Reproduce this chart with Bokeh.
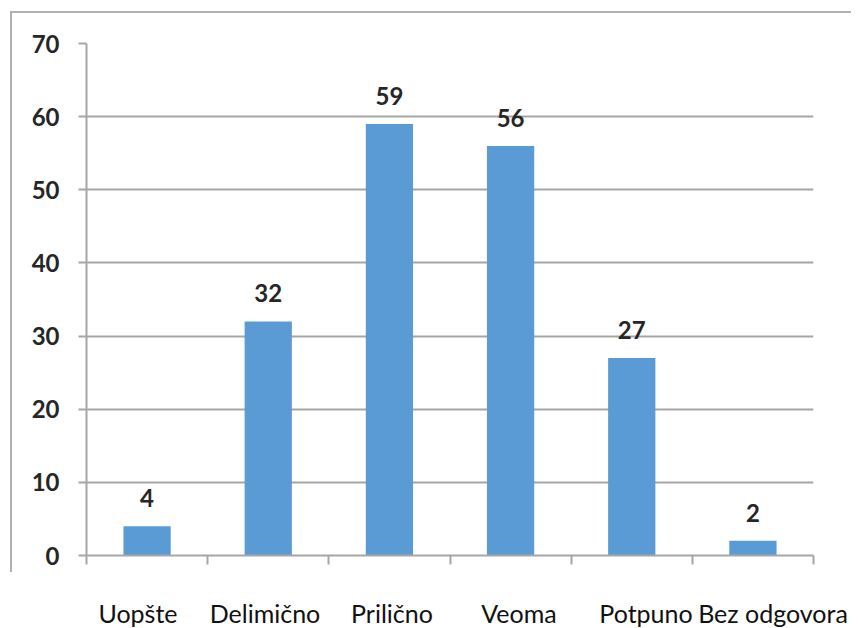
from bokeh.plotting import figure
from bokeh.models import Range1d, FactorRange, FixedTicker, ColumnDataSource, InlineStyleSheet
from bokeh.layouts import column
from bokeh.core.properties import value
from bokeh.embed import file_html
from bokeh.resources import INLINE

categories = ["Uopšte", "Delimično", "Prilično", "Veoma", "Potpuno", "Bez odgovora"]
counts = [4, 32, 59, 56, 27, 2]
y_ticks = [0, 10, 20, 30, 40, 50, 60, 70]

BAR = "#5B9BD5"
GRID = "#a6a6a6"
TXT = "#262626"

n_cat = len(categories)
centers = [i + 0.5 for i in range(n_cat)]
edges = list(range(n_cat + 1))
src = ColumnDataSource(dict(x=centers, n=counts, lab=[str(v) for v in counts]))

frame_css = InlineStyleSheet(css=":host { border-top: 2px solid #b0b0b0; border-left: 2px solid #b0b0b0; }")

p = figure(x_range=Range1d(0, n_cat), y_range=Range1d(y_ticks[0], y_ticks[-1]),
           frame_width=725, frame_height=510,
           min_border_left=69, min_border_right=45, min_border_top=30, min_border_bottom=19,
           output_backend="svg", toolbar_location=None,
           margin=(11, 0, 0, 10), stylesheets=[frame_css])
p.outline_line_color = None
p.background_fill_color = None
p.border_fill_color = None

p.vbar(x="x", top="n", width=0.39, source=src, color=BAR, line_color=None)
p.text(x="x", y="n", text="lab", source=src, text_align="center",
       text_baseline="alphabetic", y_offset=-28, text_font=value("Lato"),
       text_font_style="bold", text_font_size="24px", text_color=TXT)

# y axis
p.yaxis.ticker = FixedTicker(ticks=y_ticks)
p.yaxis.axis_line_color = GRID
p.yaxis.axis_line_width = 2
p.yaxis.major_tick_line_color = GRID
p.yaxis.major_tick_line_width = 2
p.yaxis.major_tick_out = 8
p.yaxis.major_tick_in = 0
p.yaxis.minor_tick_line_color = None
p.yaxis.major_label_standoff = 19
p.yaxis.major_label_text_font = "Lato"
p.yaxis.major_label_text_font_style = "bold"
p.yaxis.major_label_text_font_size = "24px"
p.yaxis.major_label_text_color = TXT
p.ygrid.ticker = FixedTicker(ticks=y_ticks)
p.ygrid.grid_line_color = GRID
p.ygrid.grid_line_width = 2
p.xgrid.visible = False

# x axis: ticks at category boundaries, no labels
xa = p.xaxis[0]
xa.ticker = FixedTicker(ticks=edges)
xa.major_label_overrides = {e: "" for e in edges}
xa.axis_line_color = GRID
xa.axis_line_width = 2
xa.major_tick_line_color = GRID
xa.major_tick_line_width = 2
xa.major_tick_out = 9
xa.major_tick_in = 0
xa.minor_tick_line_color = None
xa.major_label_standoff = 0

# category labels below the chart
p2 = figure(x_range=FactorRange(*categories), y_range=Range1d(0, 1),
            frame_width=762, frame_height=1,
            min_border_left=74, min_border_right=15, min_border_top=0, min_border_bottom=55,
            y_axis_location=None, output_backend="svg", toolbar_location=None)
p2.outline_line_color = None
p2.background_fill_color = None
p2.border_fill_color = None
p2.xgrid.visible = False
p2.ygrid.visible = False
p2.xaxis.axis_line_color = None
p2.xaxis.major_tick_line_color = None
p2.xaxis.minor_tick_line_color = None
p2.xaxis.major_label_standoff = 18
p2.xaxis.major_label_text_font = "Lato"
p2.xaxis.major_label_text_font_size = "25px"
p2.xaxis.major_label_text_color = "#111111"

layout = column(p, p2, spacing=0)
open("out.html", "w").write(file_html(layout, INLINE))
